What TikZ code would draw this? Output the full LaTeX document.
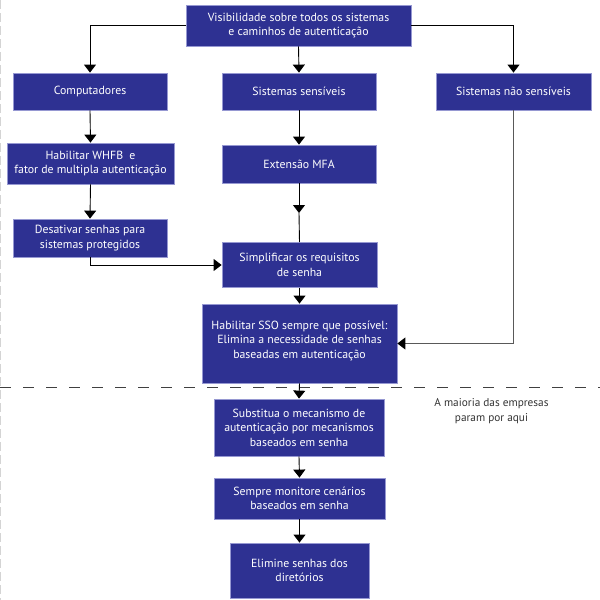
\documentclass[tikz,border=0pt]{standalone}
\usepackage{fontspec}
\setmainfont{PT Sans}
\usetikzlibrary{arrows.meta, positioning, calc}

\definecolor{azulcaixa}{RGB}{46,49,146}
\definecolor{bordacaixa}{RGB}{150,152,210}
\definecolor{cinzaborda}{RGB}{212,212,212}

\tikzset{
    caixa/.style={rectangle, fill=azulcaixa, draw=bordacaixa, line width=0.8pt,
        text=white, align=center, inner sep=0pt,
        font=\fontsize{11.8}{14.5}\selectfont},
    linha/.style={line width=0.9pt, black},
    seta/.style={linha, -{Triangle[width=12pt,length=8pt]}},
    setacinza/.style={line width=0.9pt, draw=black!65,
        -{Triangle[width=12pt,length=8pt,fill=black,color=black]}}
}

\begin{document}
\begin{tikzpicture}[x=1pt, y=-1pt]
    \useasboundingbox (0,0) rectangle (600,600);
    \draw[cinzaborda, line width=1pt, dash pattern=on 9pt off 4pt] (0.5,0) -- (0.5,600);

    % caixas
    \node[caixa, minimum width=225, minimum height=41] (vis) at (298.5,25.5)
        {Visibilidade sobre todos os sistemas\\ e caminhos de autenticação};
    \node[caixa, minimum width=154, minimum height=37] (comp) at (90,91.5) {Computadores};
    \node[caixa, minimum width=154, minimum height=37] (sens) at (299,91.5) {Sistemas sensíveis};
    \node[caixa, minimum width=155, minimum height=37] (naosens) at (513.5,91.5) {Sistemas não sensíveis};
    \node[caixa, minimum width=167, minimum height=41] (whfb) at (90.5,163.5)
        {Habilitar WHFB~ e\\ fator de multipla autenticação};
    \node[caixa, minimum width=154, minimum height=38] (ext) at (299,164) {Extensão MFA};
    \node[caixa, minimum width=154, minimum height=38] (desat) at (90,238)
        {Desativar senhas para\\ sistemas protegidos};
    \node[caixa, minimum width=155, minimum height=45] (simp) at (299.5,265)
        {Simplificar os requisitos\\ de senha};
    \node[caixa, minimum width=195, minimum height=79] (sso) at (299.5,343.5) {};
    \node[caixa, draw=none, fill=none] (ssotexto) at ($(sso.center)+(0,-3)$)
        {Habilitar SSO sempre que possível:\\ Elimina a necessidade de senhas\\ baseadas em autenticação};
    \node[caixa, minimum width=170, minimum height=57] (subst) at (299,427.5)
        {Substitua o mecanismo de\\ autenticação por mecanismos\\ baseados em senha};
    \node[caixa, minimum width=171, minimum height=41] (mon) at (299.5,498.5)
        {Sempre monitore cenários\\ baseados em senha};
    \node[caixa, minimum width=139, minimum height=55] (elim) at (299.5,570.5)
        {Elimine senhas dos\\ diretórios};

    % linha de corte
    \draw[black!75, line width=1pt, dash pattern=on 11pt off 12pt] (0,387) -- (600,387);
    \node[align=center, text=black!80, font=\fontsize{11.3}{15}\selectfont] (nota) at (491.5,411)
        {A maioria das empresas\\ param por aqui};

    % conectores
    \draw[seta] (vis.west) -| (comp.north);
    \draw[seta] (vis.east) -| (naosens.north);
    \foreach \de/\para in {vis/sens, sens/ext, comp/whfb, whfb/desat, simp/sso,
                            sso/subst, subst/mon, mon/elim} {
        \draw[seta] (\de.south) -- (\para.north);
    }
    \coordinate (meio) at (ext.south |- 0,213);
    \draw[seta] (ext.south) -- (meio);
    \draw[linha] (meio) -- (simp.north);
    \draw[seta] (desat.south) |- (simp.west);
    \draw[setacinza] (naosens.south) |- (sso.east);
\end{tikzpicture}
\end{document}
